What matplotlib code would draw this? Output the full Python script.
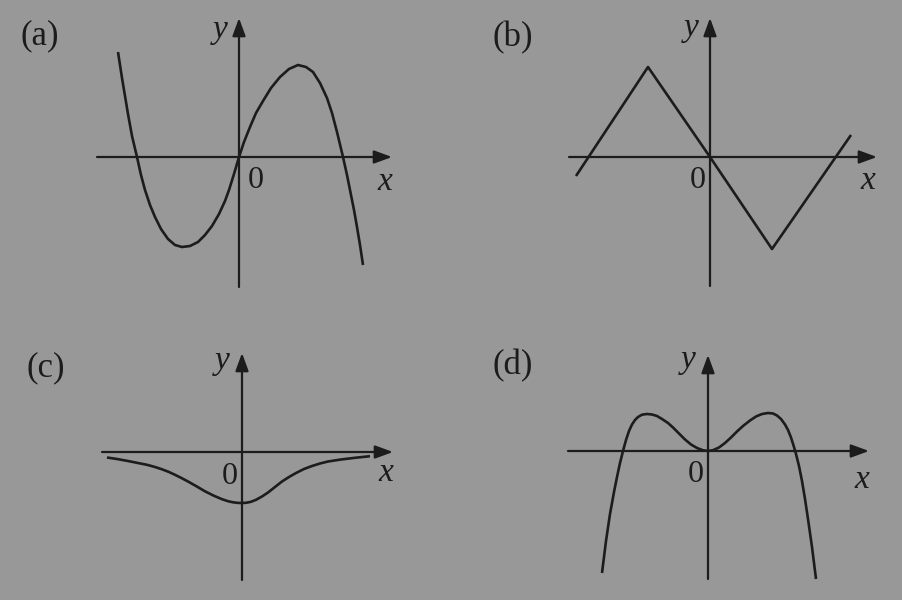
import matplotlib.pyplot as plt

# --- DATA: points, in pixels from each panel's origin (x right, y up) ---
# (a) cubic-like curve
a_x = [-121, -117, -114, -111, -107, -102, -98, -94, -89, -84, -78, -71, -64, -57, -49,
       -41, -34, -27, -20, -14, -10, -5, 0, 5, 11, 17, 24, 32, 41, 50, 59, 67, 74, 81,
       88, 93, 98, 104, 108, 111, 115, 118, 121, 124]
a_y = [105, 79, 61, 43, 21, 0, -18, -33, -48, -60, -72, -82, -88, -90, -89,
       -85, -78, -69, -57, -44, -33, -17, 0, 15, 30, 44, 56, 69, 80, 88, 92, 90, 85, 74,
       59, 44, 25, 0, -18, -33, -53, -70, -88, -108]

# (b) zig-zag
b_x = [-134, -62, 0, 62, 141]
b_y = [-19, 90, 0, -92, 22]

# (c) shallow dip below the x axis
c_x = [-135, -125, -114, -104, -95, -87, -80, -73, -67, -60, -54, -46, -37, -28, -20, -14,
       -9, -4, 0, 4, 9, 14, 20, 26, 33, 40, 47, 54, 62, 70, 78, 86, 99, 113, 128]
c_y = [-5.5, -7, -9, -11, -12.8, -15, -17.3, -20, -22.8, -26.3, -29.5, -34, -39.3, -43.8,
       -47.2, -49.2, -50.3, -50.9, -51, -50.8, -49.8, -47.8, -44.5, -40.5, -35, -29.5, -25,
       -21, -17, -14, -11.5, -9.5, -7.5, -5.8, -4.2]

# (d) two humps, both ends going down
d_x = [-106, -102, -98, -94, -91, -88, -85, -82, -79, -76, -73, -70, -66, -61, -56, -51,
       -46, -40, -35, -29, -23, -17, -11, -5, 0, 5, 11, 17, 23, 29, 35, 42, 48, 54, 60,
       65, 69, 73, 77, 80, 83, 86, 88, 91, 94, 97, 100, 104, 108]
d_y = [-122, -90, -63, -41, -26, -12, 0, 11, 20, 26.5, 31, 34, 36.3, 37, 36.5, 35,
       32, 28, 23.5, 17.5, 11.5, 6.5, 3, 0.7, 0, 0.8, 3.5, 8, 13.5, 19.5, 25, 30.5, 34.5, 37, 38,
       37.5, 35.5, 32, 26.5, 21, 13.5, 4, -3, -15, -30, -48, -68, -96, -128]

panel_names = ['(a)', '(b)', '(c)', '(d)']
series = [(a_x, a_y), (b_x, b_y), (c_x, c_y), (d_x, d_y)]

# --- LAYOUT (pixels) ---
W, H = 902, 600
origins = [(239, 157), (710, 157), (242, 452), (708, 451)]
x_axis_ext = [(-142, 153), (-141, 167), (-140, 151), (-140, 161)]
y_axis_ext = [(-130, 139), (-129, 139), (-128, 99), (-128, 96)]
name_pos = [(40, 36), (513, 38), (46, 368), (513, 366)]
zero_off = [(17, -24), (-12, -24), (-12, -24), (-12, -23)]
xlab_off = [(146, -25), (158, -24), (144, -21), (154, -29)]
ylab_off = [(-19, 127), (-19, 129), (-20, 91), (-20, 91)]

bg = '#989898'
ink = '#1c1c1c'
serif = ['Liberation Serif', 'DejaVu Serif']

fig = plt.figure(figsize=(W / 100, H / 100), dpi=100)
fig.patch.set_facecolor(bg)

for i in range(4):
    ox, oy = origins[i]
    # one transparent axes per panel over the whole figure, 1 unit = 1 pixel
    ax = fig.add_axes([0, 0, 1, 1])
    ax.set_xlim(-ox, W - ox)
    ax.set_ylim(oy - H, oy)
    ax.axis('off')
    ax.patch.set_alpha(0)

    arrow = dict(arrowstyle='-|>,head_length=0.9,head_width=0.33', lw=1.6,
                 color=ink, shrinkA=0, shrinkB=0, mutation_scale=12)
    x0, x1 = x_axis_ext[i]
    y0, y1 = y_axis_ext[i]
    ax.annotate('', xy=(x1, 0), xytext=(x0, 0), arrowprops=arrow)
    ax.annotate('', xy=(0, y1), xytext=(0, y0), arrowprops=arrow)

    xs, ys = series[i]
    ax.plot(xs, ys, color=ink, lw=1.9, solid_joinstyle='round', solid_capstyle='butt')

    ax.text(*zero_off[i], '0', fontsize=23, family=serif, color=ink, ha='center', va='center')
    ax.text(*xlab_off[i], 'x', fontsize=24, family=serif, style='italic', color=ink,
            ha='center', va='center')
    ax.text(*ylab_off[i], 'y', fontsize=24, family=serif, style='italic', color=ink,
            ha='center', va='center')

    px, py = name_pos[i]
    fig.text(px / W, 1 - py / H, panel_names[i], fontsize=25, family=serif, color=ink,
             ha='center', va='center')

fig.savefig('out.png', dpi=100, facecolor=bg)
